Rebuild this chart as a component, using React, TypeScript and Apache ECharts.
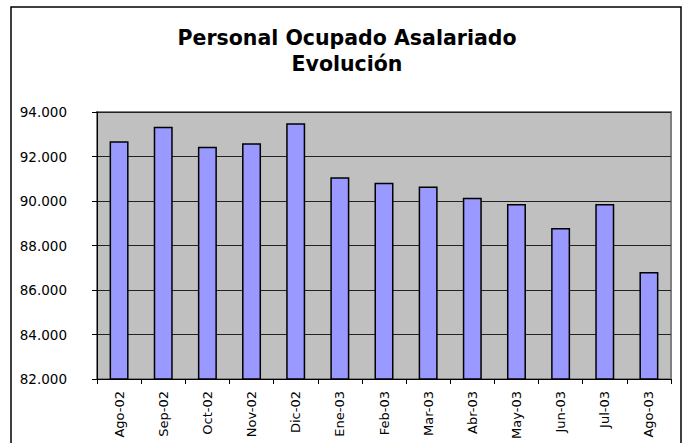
import React, { useEffect, useRef } from "react";
import * as echarts from "echarts";

const titleLines = ["Personal Ocupado Asalariado", "Evolución"];
const categories = [
  "Ago-02", "Sep-02", "Oct-02", "Nov-02", "Dic-02", "Ene-03", "Feb-03",
  "Mar-03", "Abr-03", "May-03", "Jun-03", "Jul-03", "Ago-03",
];
const values = [
  92680, 93340, 92440, 92590, 93490, 91070, 90820,
  90650, 90150, 89870, 88790, 89870, 86810,
];
const yMin = 82000;
const yMax = 94000;
const yInterval = 2000;

const fmt = (v: number) => {
  const s = Math.round(v).toString();
  return s.replace(/\B(?=(\d{3})+(?!\d))/g, ".");
};

export default function App() {
  const ref = useRef<HTMLDivElement>(null);
  useEffect(() => {
    document.body.style.margin = "0";
    const chart = echarts.init(ref.current!, undefined, { renderer: "svg" });
    const font = "DejaVu Sans";
    chart.setOption({
      animation: false,
      backgroundColor: "#ffffff",
      graphic: [
        {
          type: "rect",
          shape: { x: 11, y: 7, width: 670, height: 460 },
          style: { fill: "none", stroke: "#000", lineWidth: 1.5 },
          silent: true,
          z: -10,
        },
        {
          type: "text",
          x: 347,
          y: 25,
          silent: true,
          style: {
            text: titleLines.join("\n"),
            textAlign: "center",
            textVerticalAlign: "top",
            fontFamily: font,
            fontWeight: "bold",
            fontSize: 20.5,
            lineHeight: 26,
            fill: "#000",
          },
        },
      ],
      grid: {
        left: 97,
        right: 12,
        top: 112,
        bottom: 64,
        show: true,
        backgroundColor: "#c0c0c0",
        borderColor: "#808080",
        borderWidth: 2,
      },
      xAxis: {
        type: "category",
        data: categories,
        boundaryGap: true,
        axisLine: { show: true, lineStyle: { color: "#000", width: 1 } },
        axisTick: { show: true, alignWithLabel: false, length: 5, inside: false, lineStyle: { color: "#000" } },
        axisLabel: {
          rotate: 90,
          margin: 12,
          interval: 0,
          fontFamily: font,
          fontSize: 13,
          color: "#000",
        },
        splitLine: { show: false },
      },
      yAxis: {
        type: "value",
        min: yMin,
        max: yMax,
        interval: yInterval,
        axisLine: { show: true, lineStyle: { color: "#000", width: 1 } },
        axisTick: { show: true, length: 5, inside: false, lineStyle: { color: "#000" } },
        axisLabel: {
          margin: 30,
          fontFamily: font,
          fontSize: 13.5,
          color: "#000",
          formatter: (v: number) => fmt(v),
        },
        splitLine: { show: true, lineStyle: { color: "#222", width: 1 } },
      },
      series: [
        {
          type: "bar",
          data: values,
          barWidth: "43%",
          itemStyle: {
            color: "#9999ff",
            borderColor: "#000",
            borderWidth: 1.5,
          },
        },
      ],
    });
    return () => chart.dispose();
  }, []);
  return <div ref={ref} style={{ width: 683, height: 443 }} />;
}
